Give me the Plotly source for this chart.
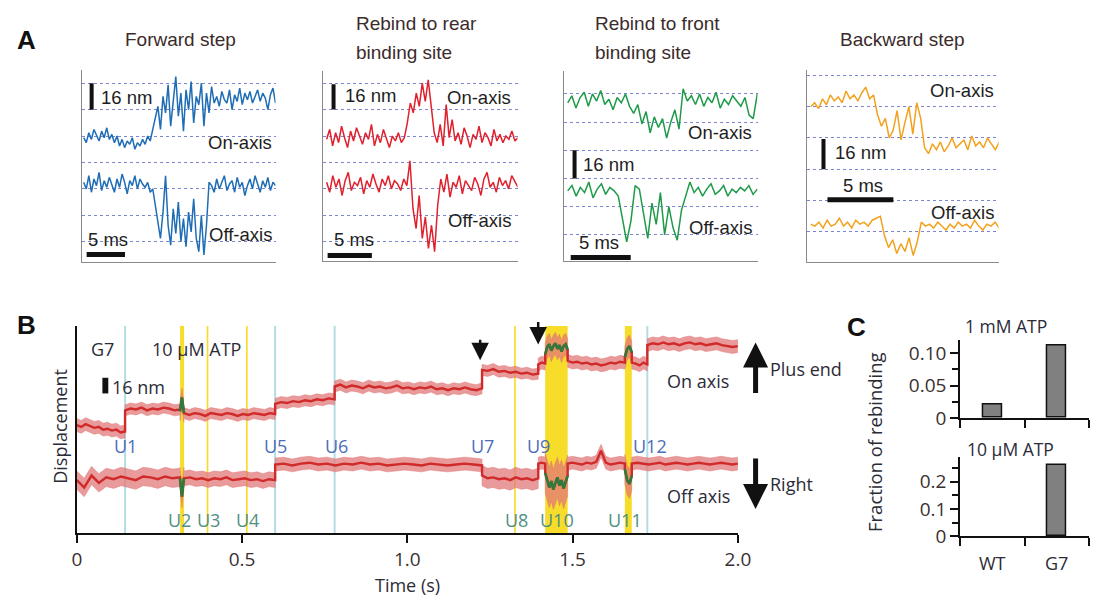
import numpy as np
import plotly.graph_objects as go

W, H = 1107, 610


def fx(x):
    return min(1.0, max(0.0, x / W))


def fy(y):
    return min(1.0, max(0.0, 1 - y / H))


# ---------------- Panel A data (nm vs ms) ----------------
A_TITLES = ["Forward step", "Rebind to rear<br>binding site", "Rebind to front<br>binding site", "Backward step"]
A_COLORS = ["#1f6db5", "#e0202c", "#1f9a48", "#f2a21e"]
A_DURATION_MS = [25.0, 21.6, 15.8, 14.3]

fwd_on = [63, 60, 66, 62, 68, 64, 61, 67, 63, 69, 62, 65,
          60, 64, 58, 62, 57, 61, 59, 63, 56, 60, 58, 62,
          59, 64, 61, 68,
          75, 82, 68, 88, 78, 95, 70, 86, 100, 76, 90, 67,
          92, 80, 97, 72, 88, 83, 96, 70, 90, 78, 94, 84,
          88, 82, 91, 86, 84, 92, 80, 89, 85, 93, 83, 90,
          86, 91, 84, 88, 92, 85, 90, 87, 80, 89, 93, 84]
fwd_off = [36, 32, 40, 30, 38, 34, 42, 31, 37, 33, 39, 35,
           30, 38, 33, 41, 36, 29, 37, 34, 40, 32, 38, 35,
           33, 36, 30, 32,
           22, 12, 2, 18, 40, 10, -2, 20, 5, 24, 0, 14,
           -3, 18, 6, 26, 2, -6, 16, -8, 10, 36, 34, 30,
           38, 32, 36, 40, 31, 35, 37, 30, 39, 33, 36, 28,
           34, 38, 32, 40, 35, 30, 37, 33, 39, 31, 36, 34]

rear_on = [62, 68, 58, 66, 60, 70, 63, 57, 67, 61, 69, 64,
           59, 66, 62, 71, 58, 65, 60, 68, 63, 57, 64, 61,
           66, 60, 63,
           72, 84, 78, 90, 82, 96, 85, 98, 80,
           66, 60, 71, 58, 83, 63, 74, 61, 66, 59, 69, 64,
           57, 65, 62, 70, 60, 66, 63, 58, 68, 61, 65, 60, 64, 62, 67, 61, 63]
rear_off = [36, 30, 40, 33, 38, 28, 37, 42, 31, 36, 34, 39,
            29, 37, 33, 41, 35, 30, 38, 34, 40, 32, 37, 35,
            31, 38, 34,
            49, 20, 8, 28, 2, 15, -4, 10, -6, 22,
            38, 30, 41, 27, 36, 33, 40, 29, 37, 34, 31, 39,
            35, 28, 38, 42, 33, 36, 30, 39, 34, 37, 32, 40, 36, 33]

front_on = [75, 79, 72, 78, 81, 73, 80, 76, 82, 74, 77, 71,
            78, 75, 80, 73,
            69, 74, 63, 70, 58, 67, 61, 66, 55, 64, 71, 60,
            83, 76, 79, 74, 80, 73, 78, 75, 81, 72, 77, 74,
            79, 76, 73, 78, 68, 66, 80]
front_off = [25, 28, 22, 27, 24, 30, 21, 26, 29, 23, 27, 25,
             22, 10,
             -4, 8, 28, 26, 12, -2, 18, 6, 24, 0, 16, 4, -3, 14, 22,
             30, 24, 27, 22, 26, 29, 23, 25, 28, 22, 26, 24, 27, 25, 28, 23, 26]

back_on = [64, 66, 63, 68, 65, 70, 67, 69, 66, 72, 68, 70, 67, 71, 74, 68, 70,
           60, 54, 58, 48, 52, 62, 47, 56, 64, 50, 66, 58,
           43, 40, 45, 42, 46, 41, 44, 48, 43, 45, 47, 42, 49, 44, 46, 43, 48, 45, 42, 46]
back_off = [4, 3, 5, 2, 6, 3, 4, 7, 3, 5, 2, 6, 4, 5, 3, 6, 7, 8,
            -2, -8, -4, -11, -6, -10, -3, -12, -5,
            5, 3, 4, 2, 5, 3, 1, 4, 2, 5, 3, 4, 2, 6, 3, 1, 4, 3, 5, 2]

A_ON = [fwd_on, rear_on, front_on, back_on]
A_OFF = [fwd_off, rear_off, front_off, back_off]

# ---------------- Panel B data (s, nm) ----------------
ON_BOUNDS = [0.000, 0.146, 0.312, 0.324, 0.600, 0.780, 1.226, 1.396, 1.417, 1.485, 1.658, 1.679, 1.726, 2.000]
ON_VALUES = [
    [118, 116, 119, 117, 115, 116, 113, 114, 112, 113, 110, 111],
    [134, 136, 135, 137, 134, 136, 135, 137, 136, 134, 135],
    [133, 140, 148, 140, 131],
    [131, 129, 131, 130, 128, 131, 130, 129, 131, 130, 128, 130, 129, 131, 130, 129, 131, 130],
    [141, 143, 142, 144, 143, 145, 144, 146, 145, 147, 146],
    [160, 162, 159, 161, 160, 158, 161, 159, 160, 158, 159, 161, 158, 159, 157, 159, 158, 160, 157, 158,
     156, 158, 157, 159, 157, 156, 158],
    [178, 177, 179, 176, 177, 175, 176, 174, 175, 173, 174],
    [184, 186, 185],
    [195, 203, 206, 199, 204, 207, 201, 205, 198, 204, 206, 200],
    [188, 186, 187, 185, 186, 184, 185, 183, 184, 186, 185, 187, 186],
    [192, 201, 204, 197],
    [186, 185, 183, 186, 184],
    [205, 207, 206, 208, 206, 207, 205, 207, 208, 206, 207, 205, 206, 207, 205, 204, 203, 204],
]
ON_HALFWIDTH = [7, 6, 10, 6, 6, 6, 6, 7, 12, 7, 12, 7, 7]
ON_GREEN = [False, False, True, False, False, False, False, False, True, False, True, False, False]

OFF_BOUNDS = [0.000, 0.312, 0.324, 0.600, 1.226, 1.396, 1.417, 1.485, 1.658, 1.679, 2.000]
OFF_VALUES = [
    [58, 50, 63, 55, 61, 59, 62, 60, 58, 62, 61, 59, 62, 60, 61],
    [60, 50, 40, 50, 60],
    [60, 61, 59, 60, 58, 60, 59, 61, 58, 59, 60, 58, 59, 57, 59, 58],
    [75, 76, 74, 76, 77, 75, 76, 74, 76, 75, 77, 75, 76, 74, 75, 76, 75, 74, 76, 75, 74, 75, 76, 75, 74],
    [63, 60, 61, 59, 60, 58, 61, 59, 60, 58, 60],
    [76, 77, 76],
    [66, 58, 50, 57, 48, 55, 61, 52, 58, 49, 56, 63],
    [76, 77, 76, 75, 77, 76, 78, 90, 77, 75, 76, 77, 76],
    [70, 58, 54, 63],
    [76, 77, 76, 75, 76, 77, 75, 76, 77, 76, 75, 76, 77, 76, 75, 76, 77, 76, 75, 76],
]
OFF_HALFWIDTH = [10, 12, 8, 7, 11, 7, 22, 7, 16, 7]
OFF_GREEN = [False, True, False, False, False, False, True, False, True, False]

BLUE_EVENTS_T = [0.146, 0.600, 0.780, 1.726]
YELLOW_LINES_T = [(0.3125, 0.3245), (0.393, 0.398), (0.512, 0.517), (1.323, 1.328),
                  (1.417, 1.485), (1.658, 1.679)]
BLUE_LABELS = ["U1", "U5", "U6", "U7", "U9", "U12"]
BLUE_LABELS_T = [0.146, 0.602, 0.786, 1.226, 1.398, 1.735]
GREEN_LABELS = ["U2", "U3", "U4", "U8", "U10", "U11"]
GREEN_LABELS_T = [0.312, 0.398, 0.516, 1.331, 1.453, 1.659]
B_XTICKS = [0, 0.5, 1.0, 1.5, 2.0]
B_XTICKTEXT = ["0", "0.5", "1.0", "1.5", "2.0"]

# ---------------- Panel C data ----------------
C_CATS = ["WT", "G7"]
C_1MM = [0.021, 0.112]
C_10UM = [0.0, 0.26]

fig = go.Figure()

# ---- Panel A subplots ----
A_XDOM = [(78, 275), (323, 521), (568, 765), (815, 1010)]
A_YDOM = [(268, 72), (267, 73), (267, 73), (268, 72)]
A_XRANGE = [(-0.26, 25.0), (-0.44, 21.56), (-0.33, 15.82), (-0.3, 14.25)]
A_YRANGE = [(-12.4, 103.7), (-11.85, 103.1), (-15.0, 92.8), (-15.5, 82.5)]
A_GRID = [[0, 16, 32, 48, 64, 80, 96], [0, 16, 32, 48, 64, 80, 96],
          [0, 16, 32, 48, 64, 80], [0, 16, 32, 48, 64, 80]]

layout_axes = {}
for i in range(4):
    n = i + 1
    xa = "xaxis" if n == 1 else f"xaxis{n}"
    ya = "yaxis" if n == 1 else f"yaxis{n}"
    xr = "x" if n == 1 else f"x{n}"
    yr = "y" if n == 1 else f"y{n}"
    layout_axes[xa] = dict(domain=[fx(A_XDOM[i][0]), fx(A_XDOM[i][1])], range=list(A_XRANGE[i]),
                           showline=True, linecolor="#8a8a8a", linewidth=1.2, showgrid=False,
                           zeroline=False, showticklabels=False, ticks="", anchor=yr, fixedrange=True)
    layout_axes[ya] = dict(domain=[fy(A_YDOM[i][0]), fy(A_YDOM[i][1])], range=list(A_YRANGE[i]),
                           showline=True, linecolor="#8a8a8a", linewidth=1.2, showgrid=True,
                           gridcolor="#7d86cc", griddash="dot", gridwidth=1, tickmode="array",
                           tickvals=A_GRID[i], zeroline=False, showticklabels=False, ticks="",
                           anchor=xr, fixedrange=True)
    for vals in (A_ON[i], A_OFF[i]):
        t = np.linspace(0, A_DURATION_MS[i], len(vals))
        fig.add_trace(go.Scatter(x=t, y=vals, xaxis=xr, yaxis=yr, mode="lines",
                                 line=dict(color=A_COLORS[i], width=1.5), showlegend=False,
                                 hoverinfo="skip"))

TICKFONT = dict(family="Open Sans", size=19, color="#3a3030")
# Panel B axes
layout_axes["xaxis5"] = dict(domain=[fx(73), fx(745)], range=[0, 2], showline=True, linecolor="#111",
                             linewidth=2, showgrid=False, zeroline=False, tickmode="array",
                             tickvals=B_XTICKS, ticktext=B_XTICKTEXT, ticks="outside", ticklen=8,
                             tickwidth=2, tickcolor="#111", tickfont=TICKFONT, anchor="y5")
layout_axes["yaxis5"] = dict(domain=[fy(545), fy(333)], range=[0, 226], showline=True, linecolor="#111",
                             linewidth=2, showgrid=False, zeroline=False, showticklabels=False,
                             ticks="", anchor="x5")

# Panel C axes
C_XDOM = [fx(971), fx(1102)]
layout_axes["xaxis6"] = dict(domain=C_XDOM, range=[0, 2], showline=True, linecolor="#111",
                             linewidth=2, showgrid=False, zeroline=False, tickmode="array",
                             tickvals=[0, 1, 2], showticklabels=False, ticks="outside", ticklen=8,
                             tickwidth=2, tickcolor="#111", anchor="y6")
layout_axes["yaxis6"] = dict(domain=[fy(427), fy(347)], range=[0, 0.121], showline=True, linecolor="#111",
                             linewidth=2, showgrid=False, zeroline=False, tickmode="array",
                             tickvals=[0, 0.05, 0.10], ticktext=["0", "0.05", "0.10"], ticks="outside",
                             ticklen=8, tickwidth=2, tickcolor="#111",
                             minor=dict(tick0=0, dtick=0.025, ticks="outside", ticklen=6, tickwidth=2,
                                        tickcolor="#111"),
                             tickfont=TICKFONT, anchor="x6")
layout_axes["xaxis7"] = dict(domain=C_XDOM, range=[0, 2], showline=True, linecolor="#111",
                             linewidth=2, showgrid=False, zeroline=False, tickmode="array",
                             tickvals=[0, 1, 2], showticklabels=False, ticks="outside", ticklen=8,
                             tickwidth=2, tickcolor="#111", anchor="y7")
layout_axes["yaxis7"] = dict(domain=[fy(548), fy(467)], range=[0, 0.29], showline=True, linecolor="#111",
                             linewidth=2, showgrid=False, zeroline=False, tickmode="array",
                             tickvals=[0, 0.1, 0.2], ticktext=["0", "0.1", "0.2"], ticks="outside",
                             ticklen=8, tickwidth=2, tickcolor="#111",
                             minor=dict(tick0=0, dtick=0.05, ticks="outside", ticklen=6, tickwidth=2,
                                        tickcolor="#111"),
                             tickfont=TICKFONT, anchor="x7")


# ---- Panel B traces ----
def build(bounds, values, hws):
    ts, vs, hw = [], [], []
    for k, vals in enumerate(values):
        t = np.linspace(bounds[k], bounds[k + 1], len(vals))
        ts.extend(t.tolist())
        vs.extend(vals)
        hw.extend([hws[k]] * len(vals))
    return np.array(ts), np.array(vs, dtype=float), np.array(hw, dtype=float)


for bounds, values, hws, greens in ((ON_BOUNDS, ON_VALUES, ON_HALFWIDTH, ON_GREEN),
                                    (OFF_BOUNDS, OFF_VALUES, OFF_HALFWIDTH, OFF_GREEN)):
    t, v, hw = build(bounds, values, hws)
    up = v + hw
    lo = v - hw
    fig.add_trace(go.Scatter(x=np.concatenate([t, t[::-1]]), y=np.concatenate([up, lo[::-1]]),
                             xaxis="x5", yaxis="y5", mode="lines", fill="toself",
                             fillcolor="rgba(226,120,120,0.75)", line=dict(width=0.6, color="rgba(226,120,120,0.8)"),
                             showlegend=False, hoverinfo="skip"))
    fig.add_trace(go.Scatter(x=t, y=v, xaxis="x5", yaxis="y5", mode="lines",
                             line=dict(color="#d02a2a", width=2.4), showlegend=False, hoverinfo="skip"))
    for k, vals in enumerate(values):
        if greens[k]:
            tg = np.linspace(bounds[k], bounds[k + 1], len(vals))
            fig.add_trace(go.Scatter(x=tg, y=vals, xaxis="x5", yaxis="y5", mode="lines",
                                     line=dict(color="#2f7a3c", width=2.6), showlegend=False,
                                     hoverinfo="skip"))

# ---- Panel C bars ----
cx = np.arange(len(C_CATS)) + 0.5
for vals, xr, yr in ((C_1MM, "x6", "y6"), (C_10UM, "x7", "y7")):
    fig.add_trace(go.Bar(x=cx, y=vals, width=0.3, xaxis=xr, yaxis=yr,
                         marker=dict(color="#808080",
                                     line=dict(color="#111", width=[1.5 if v > 0 else 0 for v in vals])),
                         showlegend=False))

# ---- Shapes ----
shapes = []
for (t0, t1) in YELLOW_LINES_T:
    shapes.append(dict(type="rect", xref="x5", yref="y5 domain", x0=t0, x1=t1, y0=0, y1=1,
                       fillcolor="#f8dc2a", line=dict(width=0), layer="below"))
for t0 in BLUE_EVENTS_T:
    shapes.append(dict(type="line", xref="x5", yref="y5 domain", x0=t0, x1=t0, y0=0, y1=1,
                       line=dict(color="#b3dde5", width=2), layer="below"))
# scale bars panel A
A_NM_BAR = [(1.03, 80, 96), (0.78, 80, 95.4), (0.57, 32, 48), (0.97, 32, 47.5)]
A_MS_BAR = [(0.38, 5.38, -7.7), (0.11, 5.11, -8.3), (0.25, 5.25, -12.8), (1.27, 6.27, 16.5)]
for i in range(4):
    xr = "x" if i == 0 else f"x{i + 1}"
    yr = "y" if i == 0 else f"y{i + 1}"
    xb, y0, y1 = A_NM_BAR[i]
    shapes.append(dict(type="line", xref=xr, yref=yr, x0=xb, x1=xb, y0=y0, y1=y1,
                       line=dict(color="#111", width=4)))
    x0, x1, yb = A_MS_BAR[i]
    shapes.append(dict(type="line", xref=xr, yref=yr, x0=x0, x1=x1, y0=yb, y1=yb,
                       line=dict(color="#111", width=5)))
# panel B 16 nm bar
shapes.append(dict(type="rect", xref="paper", yref="paper", x0=fx(99), x1=fx(105), y0=fy(402), y1=fy(386),
                   fillcolor="#111", line=dict(width=0)))

# ---- Annotations ----
ann = []
AF = "Liberation Sans"
BF = "Open Sans"


def text(x, y, s, size=18, family=AF, color="#222", xanchor="center", bold=False, angle=0):
    if bold:
        s = f"<b>{s}</b>"
    ann.append(dict(x=fx(x), y=fy(y), xref="paper", yref="paper", text=s, showarrow=False,
                    xanchor=xanchor, yanchor="middle", textangle=angle,
                    font=dict(family=family, size=size, color=color)))


text(22, 41, "A", size=26, bold=True, color="#111")
text(22, 332, "B", size=26, bold=True, color="#111")
text(866, 334, "C", size=26, bold=True, color="#111")

tc = "#3b2b2b"
TS = 19
text(178, 40, A_TITLES[0], size=TS, color=tc)
text(355, 24, "Rebind to rear", size=TS, color=tc, xanchor="left")
text(355, 54, "binding site", size=TS, color=tc, xanchor="left")
text(598, 24, "Rebind to front", size=TS, color=tc, xanchor="left")
text(598, 54, "binding site", size=TS, color=tc, xanchor="left")
text(912, 40, A_TITLES[3], size=TS, color=tc)

lc = "#1e1e1e"
LS = 18.5
A_LABELS = [
    [(96, 100, "16 nm", "left"), (273, 146, "On-axis", "right"), (273, 240, "Off-axis", "right"),
     (82, 245, "5 ms", "left")],
    [(344, 98, "16 nm", "left"), (516, 100, "On-axis", "right"), (516, 225, "Off-axis", "right"),
     (332, 245, "5 ms", "left")],
    [(586, 168, "16 nm", "left"), (761, 135, "On-axis", "right"), (761, 232, "Off-axis", "right"),
     (581, 248, "5 ms", "left")],
    [(842, 156, "16 nm", "left"), (1007, 92, "On-axis", "right"), (1007, 217, "Off-axis", "right"),
     (850, 190, "5 ms", "left")],
]
for labs in A_LABELS:
    for (x, y, s, anc) in labs:
        text(x, y, s, size=LS, color=lc, xanchor=anc)

# Panel B texts
bc = "#2b2b38"
BS = 18
text(99, 357, "G7", size=BS, family=BF, color=bc)
text(195, 357, "10 μM ATP", size=BS, family=BF, color=bc)
text(107, 395, "16 nm", size=BS, family=BF, color=bc, xanchor="left")
text(56, 436, "Displacement", size=BS, family=BF, color=bc, angle=-90)
text(409, 598, "Time (s)", size=BS, family=BF, color=bc)
text(671, 389, "On axis", size=BS, family=BF, color=bc, xanchor="left")
text(671, 507, "Off axis", size=BS, family=BF, color=bc, xanchor="left")
text(776, 377, "Plus end", size=BS, family=BF, color=bc, xanchor="left")
text(776, 495, "Right", size=BS, family=BF, color=bc, xanchor="left")

for s, t in zip(BLUE_LABELS, BLUE_LABELS_T):
    text(73 + 336 * t, 456, s, size=BS, family=BF, color="#4d6db8")
for s, t in zip(GREEN_LABELS, GREEN_LABELS_T):
    text(73 + 336 * t, 531, s, size=BS, family=BF, color="#4f8f7f")

# arrows
for (x, yh, dy, w) in [(483, 368, -22, 2.5), (542, 352, -24, 2.5), (763, 350, 52, 5), (763, 520, -52, 5)]:
    ann.append(dict(x=fx(x), y=fy(yh), xref="paper", yref="paper", ax=0, ay=dy, text="",
                    showarrow=True, arrowhead=2, arrowsize=1.0 if w > 3 else 1.4, arrowwidth=w,
                    arrowcolor="#111"))

# Panel C texts
text(1018, 333, "1 mM ATP", size=17.5, family=BF, color=bc)
text(1022, 459, "10 μM ATP", size=17.5, family=BF, color=bc)
text(884, 452, "Fraction of rebinding", size=18.5, family=BF, color=bc, angle=-90)
for k, s in enumerate(C_CATS):
    text(971 + 65.5 * cx[k], 575, s, size=BS, family=BF, color=bc)

fig.update_layout(width=W, height=H, margin=dict(l=0, r=0, t=0, b=0), autosize=False,
                  paper_bgcolor="white", plot_bgcolor="rgba(0,0,0,0)", showlegend=False,
                  shapes=shapes, annotations=ann, bargap=0, **layout_axes)

fig.write_html("out.html")
